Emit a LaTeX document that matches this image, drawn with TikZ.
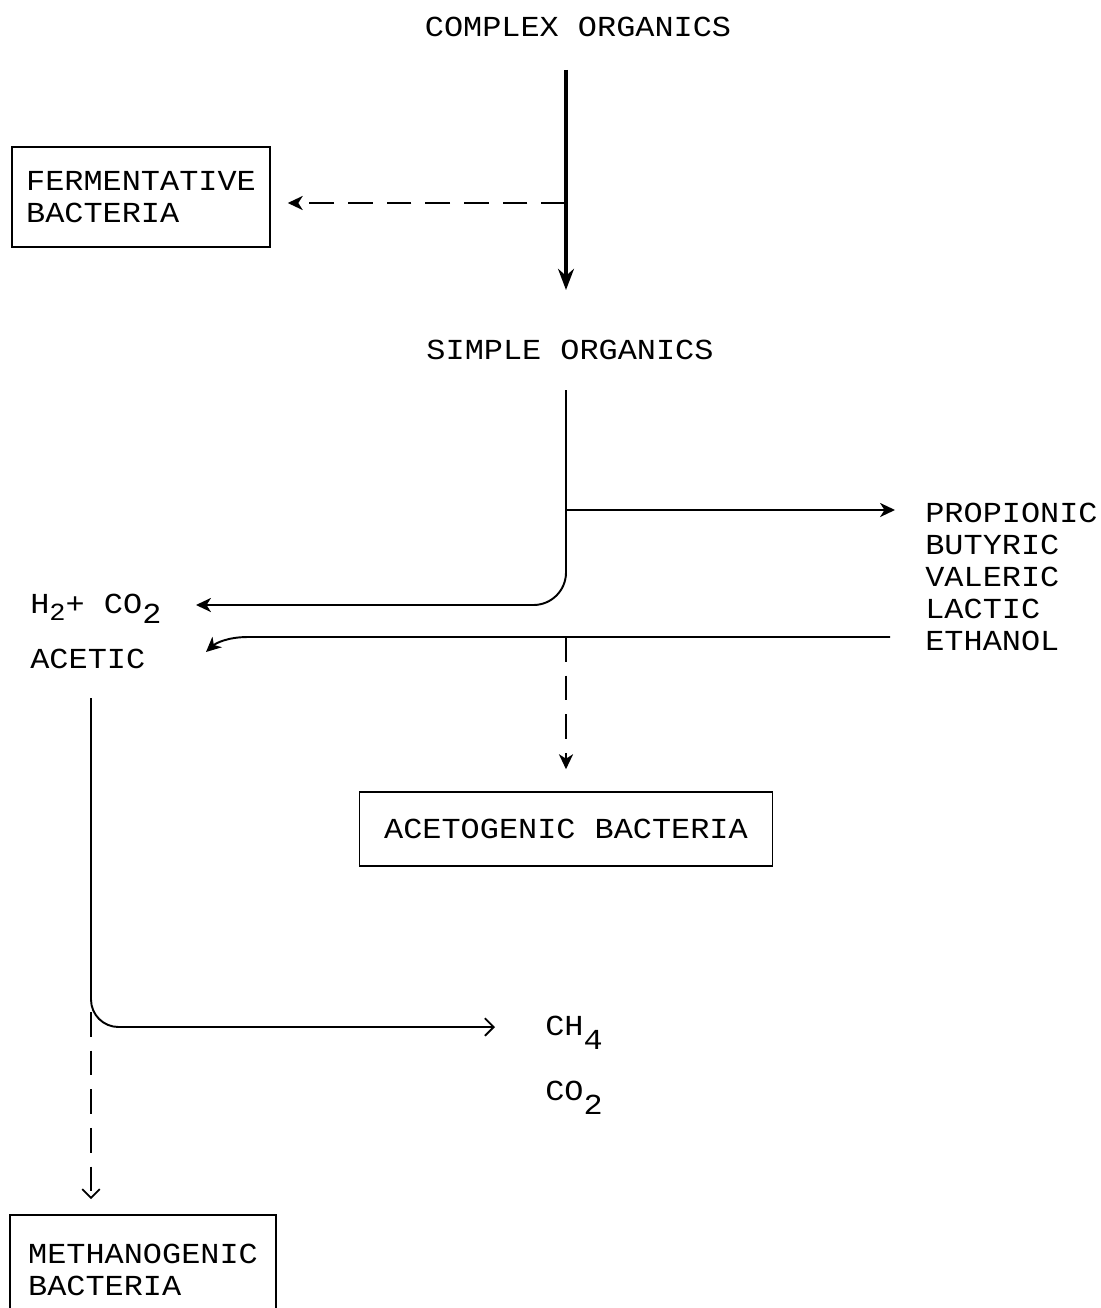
\documentclass[tikz,border=0pt]{standalone}
\usepackage{fontspec}
\setmainfont{Liberation Mono}[FakeStretch=1.1]
\usetikzlibrary{arrows.meta, positioning}
\newcommand{\lo}[1]{\raisebox{-8.5pt}{#1}}
\newcommand{\lohalf}[1]{\raisebox{-6pt}{#1}}
\newcommand{\losmall}[1]{\raisebox{-4pt}{\fontsize{14pt}{14pt}\selectfont #1}}
\tikzset{
  txt/.style = {inner sep=0pt, font=\fontsize{16.5pt}{18.2pt}\selectfont, align=left},
  box/.style = {txt, draw=black, line width=0.9pt},
  flow/.style = {draw=black, line width=1.1pt},
  main/.style = {draw=black, line width=2.2pt, -{Stealth[length=12pt, width=9pt]}},
  filltip/.style = {-{Stealth[length=8.5pt, width=8pt, inset=2.5pt]}},
  opentip/.style = {-{Straight Barb[length=5pt, width=10pt]}},
  dsh/.style = {flow, dash pattern=on 14pt off 8pt}
}

\begin{document}
\begin{tikzpicture}[x=0.02cm, y=-0.02cm]
  \useasboundingbox (0,0) rectangle (1101,1308);
  % labels
  \node [txt, anchor=base] (complex) at (578,37) {COMPLEX ORGANICS};
  \node [txt, anchor=base] (simple) at (570,359) {SIMPLE ORGANICS};
  \node [txt, anchor=north west] (acids) at (925,503)
    {PROPIONIC\\BUTYRIC\\VALERIC\\LACTIC\\ETHANOL};
  \node [txt, anchor=base west] (h2co2) at (30,613)
    {H\losmall{2}+ CO\lohalf{2}};
  \node [txt, anchor=base west] (acetic) at (30,668) {ACETIC};
  \node [txt, anchor=base west] (ch4) at (545,1035) {CH\lo{4}};
  \node [txt, anchor=base west] (co2) at (545,1100) {CO\lo{2}};
  % bacteria boxes
  \node [box, minimum width=5.16cm, minimum height=2cm] (ferm) at (141,197)
    {FERMENTATIVE\\BACTERIA};
  \node [box, minimum width=8.26cm, minimum height=1.48cm] (aceto) at (566,829)
    {ACETOGENIC BACTERIA};
  \node [box, minimum width=5.32cm, minimum height=2.2cm] (metha) at (143,1270)
    {METHANOGENIC\\BACTERIA};
  % junctions
  \coordinate (cplx-out) at (566,70);
  \coordinate (ferm-tap) at (566,203);
  \coordinate (smpl-in) at (566,290);
  \coordinate (smpl-out) at (566,390);
  \coordinate (acid-tap) at (566,510);
  \coordinate (h2-in) at (196,605);
  \coordinate (eth-out) at (890,637);
  \coordinate (acet-in) at (206,652);
  \coordinate (aceto-tap) at (566,637);
  \coordinate (acet-out) at (91,698);
  \coordinate (ch4-in) at (495,1027);
  \coordinate (metha-tap) at (91,1012);
  % hydrolysis
  \draw [main] (cplx-out) -- (smpl-in);
  \draw [dsh, filltip, shorten >=0.34cm] (ferm-tap) -- (ferm.east |- ferm-tap);
  % acidogenesis
  \draw [flow, filltip, rounded corners=0.65cm] (smpl-out) |- (h2-in);
  \draw [flow, filltip, shorten >=0.6cm] (acid-tap) -- (acids.west |- acid-tap);
  % acetogenesis
  \draw [flow, filltip] (eth-out) -- (248,637)
    .. controls (228,637) and (216,643) .. (acet-in);
  \draw [dsh, filltip, shorten >=0.44cm] (aceto-tap) -- (aceto.north);
  % methanogenesis
  \draw [flow, opentip, rounded corners=0.55cm] (acet-out) |- (ch4-in);
  \draw [dsh, opentip, shorten >=0.3cm] (metha-tap) -- (metha.north -| metha-tap);
\end{tikzpicture}
\end{document}
